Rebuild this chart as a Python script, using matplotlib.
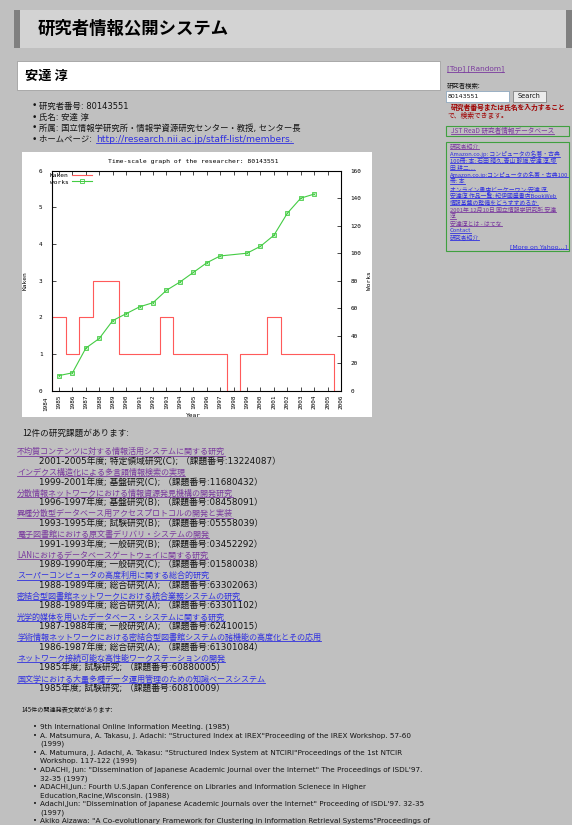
import matplotlib
matplotlib.use("Agg")
import matplotlib.pyplot as plt
from matplotlib.patches import Rectangle

W, H = 572, 825
JP = ["Noto Sans CJK JP", "DejaVu Sans"]
LAT = ["DejaVu Sans", "Noto Sans CJK JP"]
MONO = ["DejaVu Sans Mono"]
INK = "#141414"
BLUE = "#3030e0"
PURPLE = "#7a3a9e"

# chart data
years = list(range(1984, 2007))
kaken = [0, 2, 1, 2, 3, 3, 1, 1, 1, 2, 1, 1, 1, 1, 0, 1, 1, 2, 1, 1, 1, 1, 0]
works_years = [1985, 1986, 1987, 1988, 1989, 1990, 1991, 1992, 1993, 1994, 1995,
               1996, 1997, 1999, 2000, 2001, 2002, 2003, 2004]
works = [11, 13, 31, 38, 51, 56, 61, 64, 73, 79, 86, 93, 98, 100, 105, 113, 129, 140, 143]
year_ticks = list(range(1985, 2007))
kaken_ticks = [0, 1, 2, 3, 4, 5, 6]
works_ticks = [0, 20, 40, 60, 80, 100, 120, 140, 160]

# page text
page_title = "研究者情報公開システム"
name = "安達 淳"
info = ["研究者番号: 80143551", "氏名: 安達 淳",
        "所属: 国立情報学研究所・情報学資源研究センター・教授, センター長",
        "ホームページ: "]
homepage = "http://research.nii.ac.jp/staff-list/members."

project_heading = "12件の研究課題があります:"
project_titles = [
    "不均質コンテンツに対する情報活用システムに関する研究",
    "インデクス構造化による多言語情報検索の実現",
    "分散情報ネットワークにおける情報資源発見機構の開発研究",
    "異種分散型データベース用アクセスプロトコルの開発と実装",
    "電子図書館における原文書デリバリ・システムの開発",
    "LANにおけるデータベースゲートウェイに関する研究",
    "スーパーコンピュータの高度利用に関する総合的研究",
    "密結合型図書館ネットワークにおける統合業務システムの研究",
    "光学的媒体を用いたデータベース・システムに関する研究",
    "学術情報ネットワークにおける密結合型図書館システムの諸機能の高度化とその応用",
    "ネットワーク接続可能な高性能ワークステーションの開発",
    "国文学における大量多種データ運用管理のための知識ベースシステム",
]
project_details = [
    "2001-2005年度; 特定領域研究(C); （課題番号:13224087）",
    "1999-2001年度; 基盤研究(C); （課題番号:11680432）",
    "1996-1997年度; 基盤研究(B); （課題番号:08458091）",
    "1993-1995年度; 試験研究(B); （課題番号:05558039）",
    "1991-1993年度; 一般研究(B); （課題番号:03452292）",
    "1989-1990年度; 一般研究(C); （課題番号:01580038）",
    "1988-1989年度; 総合研究(A); （課題番号:63302063）",
    "1988-1989年度; 総合研究(A); （課題番号:63301102）",
    "1987-1988年度; 一般研究(A); （課題番号:62410015）",
    "1986-1987年度; 総合研究(A); （課題番号:61301084）",
    "1985年度; 試験研究; （課題番号:60880005）",
    "1985年度; 試験研究; （課題番号:60810009）",
]
project_visited = [True] * 6 + [False] * 6

pub_heading = "145件の関連発表文献があります:"
pubs = [
    ["9th International Online Information Meeting. (1985)"],
    ['A. Matsumura, A. Takasu, J. Adachi: "Structured Index at IREX"Proceeding of the IREX Workshop. 57-60',
     "(1999)"],
    ['A. Matumura, J. Adachi, A. Takasu: "Structured Index System at NTCIRI"Proceedings of the 1st NTCIR',
     "Workshop. 117-122 (1999)"],
    ['ADACHI, Jun: "Dissemination of Japanese Academic Journal over the Internet" The Proceedings of ISDL\'97.',
     "32-35 (1997)"],
    ["ADACHI,Jun.: Fourth U.S.Japan Conference on Libraries and Information Scienece in Higher",
     "Education,Racine,Wisconsin. (1988)"],
    ['Adachi,Jun: "Dissemination of Japanese Academic Journals over the Internet" Proceeding of ISDL\'97. 32-35',
     "(1997)"],
    ['Akiko Aizawa: "A Co-evolutionary Framework for Clustering in Information Retrieval Systems"Proceedings of'],
]

side_links = [
    "研究者紹介",
    "Amazon.co.jp: コンピュータの名著・古典",
    "100冊: 本: 石田 晴久,青山 幹雄,安達 淳,塚",
    "田 耕二,...",
    "Amazon.co.jp:コンピュータの名著・古典100",
    "冊: 本",
    "オンライン書店ビーケーワン:安達 淳",
    "安達淳 作品一覧: 紀伊國屋書店BookWeb",
    "情報基盤の整備をどうすすめるか",
    "2001年 12月10日 国立情報学研究所 安達",
    "淳",
    "安達淳とは - はてな",
    "Contact",
    "研究者紹介",
]
side_visited = [True, False, False, False, False, False, False, False, False,
                True, True, True, False, False]

fig = plt.figure(figsize=(W / 100, H / 100), dpi=100)
fig.patch.set_facecolor("#c0c0c0")
bg = fig.add_axes([0, 0, 1, 1])
bg.set_xlim(0, W)
bg.set_ylim(H, 0)
bg.axis("off")

links = []


def txt(x, y, s, size, color=INK, family=JP, link=False, **kw):
    t = bg.text(x, y, s, fontsize=size, color=color, family=family,
                va="center", **kw)
    if link:
        links.append(t)
    return t


# header
bg.add_patch(Rectangle((14, 10), 558, 38, fc="#d3d3d3", ec="none"))
bg.add_patch(Rectangle((14, 10), 6, 38, fc="#808080", ec="none"))
bg.add_patch(Rectangle((566, 10), 6, 38, fc="#808080", ec="none"))
txt(38, 29, page_title, 12.5, weight="bold", color="#000000")

# name box
bg.add_patch(Rectangle((17, 61), 423, 29, fc="white", ec="#a0a0a0", lw=0.6))
txt(25, 75.5, name, 9.5, weight="bold", color="#000000")

# info list
for i, s in enumerate(info):
    y = 106 + 11 * i
    txt(32, y, "•", 6.5, family=["DejaVu Sans"])
    txt(39, y, s, 6.0, family=LAT)
txt(96, 139, homepage, 6.6, color=BLUE, family=["DejaVu Sans"], link=True)

# chart background (image)
bg.add_patch(Rectangle((22, 151.5), 350, 265.5, fc="white", ec="none"))

# projects
txt(22, 433, project_heading, 6.2)
for i, (t, d) in enumerate(zip(project_titles, project_details)):
    y = 451.7 + 20.65 * i
    txt(17, y, t, 5.8, color=PURPLE if project_visited[i] else BLUE, link=True)
    txt(39.3, y + 10.5, d, 6.3, family=LAT)

# publications
txt(22, 710, pub_heading, 4.4)
k = 0
for item in pubs:
    for j, line in enumerate(item):
        y = 727 + 8.55 * k
        if j == 0:
            txt(33, y, "•", 5, family=["DejaVu Sans"])
        txt(40, y, line, 5.25, family=["DejaVu Sans"])
        k += 1

# sidebar
txt(447, 69, "[Top] [Random]", 5.3, color=PURPLE, family=["DejaVu Sans"], link=True)
txt(447, 86, "研究者検索:", 4.6)
bg.add_patch(Rectangle((446, 91), 63, 11, fc="white", ec="#7f9db9", lw=0.5))
txt(447.5, 96.5, "80143551", 4.5, family=["DejaVu Sans"])
bg.add_patch(Rectangle((512.5, 91), 33, 11, fc="#ececec", ec="#707070", lw=0.5))
txt(529, 96.5, "Search", 4.8, family=["DejaVu Sans"], ha="center")
txt(450.7, 107.3, "研究者番号または氏名を入力すること", 4.9, color="#a00000", weight="bold")
txt(447, 115.7, "で、検索できます。", 4.9, color="#a00000")
bg.add_patch(Rectangle((446, 125.7), 123, 10, fc="none", ec="#40a040", lw=0.8))
txt(450.7, 130.7, "JST ReaD 研究者情報データベース", 4.8, color=PURPLE, link=True)
bg.add_patch(Rectangle((446, 141.7), 123, 109.3, fc="none", ec="#40a040", lw=0.8))
for i, s in enumerate(side_links):
    txt(450, 147 + 6.98 * i, s, 4.2, color=PURPLE if side_visited[i] else BLUE, link=True)
txt(567.5, 247, "[More on Yahoo…]", 4.5, color=BLUE, family=LAT, ha="right", link=True)

# chart
ax = fig.add_axes([52.3 / W, 1 - 390.7 / H, (341 - 52.3) / W, 220 / H])
ax.step(years, kaken, where="mid", color="#ff5a5a", lw=0.8, label="Kaken", zorder=5)
ax.set_xlim(1984.5, 2006)
ax.set_ylim(0, 6)
ax.set_xticks(year_ticks)
ax.set_xticklabels([str(y) for y in year_ticks], rotation=90, fontsize=4.3, family=MONO)
ax.set_yticks(kaken_ticks)
ax.set_yticklabels([str(v) for v in kaken_ticks], fontsize=4.3, family=MONO)
ax.tick_params(direction="in", length=3, width=0.5, top=True, pad=3)
ax.tick_params(axis="y", pad=7)
ax.text(1984, -0.028, "1984", rotation=90, fontsize=4.3, family=MONO, ha="center",
        va="top", transform=ax.get_xaxis_transform(), clip_on=False)
for sp in ax.spines.values():
    sp.set_linewidth(0.6)

ax2 = ax.twinx()
ax2.plot(works_years, works, color="#44cc44", lw=0.8, marker="s", ms=3.2,
         mfc="none", mew=0.6, label="works")
ax2.plot(works_years, works, ls="none", marker="x", ms=1.6, mew=0.5, color="#44cc44")
ax2.set_ylim(0, 160)
ax2.set_yticks(works_ticks)
ax2.set_yticklabels([str(v) for v in works_ticks], fontsize=4.3, family=MONO)
ax2.tick_params(direction="in", length=3, width=0.5, pad=7)

ax.set_ylabel("Kaken", fontsize=4.5, family=MONO)
ax.yaxis.set_label_coords(-0.087, 0.5)
ax2.set_ylabel("Works", fontsize=4.5, family=MONO)
ax2.yaxis.set_label_coords(1.091, 0.5)
ax.set_xlabel("Year", fontsize=4.5, family=MONO)
ax.xaxis.set_label_coords(0.487, -0.103)
ax.text(0.487, 1.041, "Time-scale graph of the researcher: 80143551", fontsize=4.6,
        family=MONO, ha="center", va="center", transform=ax.transAxes)

h1, l1 = ax.get_legend_handles_labels()
h2, l2 = ax2.get_legend_handles_labels()
ax2.legend(h1 + h2, l1 + l2, loc="upper left", bbox_to_anchor=(-0.008, 0.99),
           frameon=False, markerfirst=False, prop={"family": MONO, "size": 4.5},
           handlelength=3.2, handletextpad=0.6, labelspacing=0.15,
           borderpad=0, borderaxespad=0)

# underline links
fig.canvas.draw()
r = fig.canvas.get_renderer()
inv = bg.transData.inverted()
for t in links:
    bb = t.get_window_extent(r)
    (x0, y0), (x1, y1) = inv.transform([[bb.x0, bb.y0], [bb.x1, bb.y1]])
    bg.plot([x0, x1], [max(y0, y1) - 0.6] * 2, color=t.get_color(), lw=0.6)

fig.savefig("out.png", dpi=100, facecolor=fig.get_facecolor())
